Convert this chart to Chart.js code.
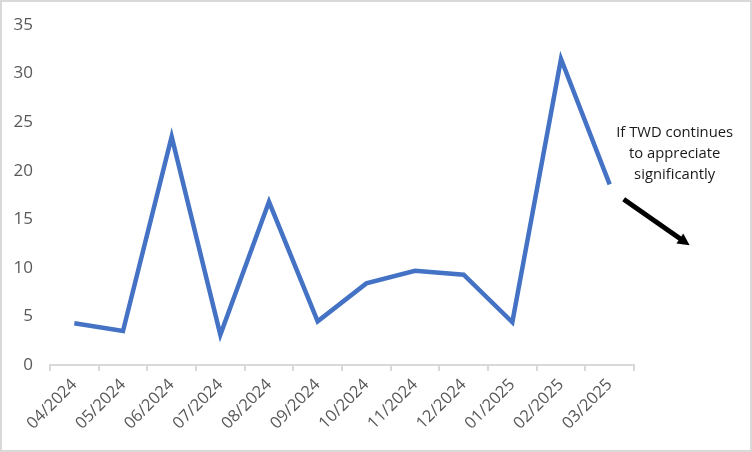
<!DOCTYPE html>
<html>
<head>
<meta charset="utf-8">
<script src="https://cdn.jsdelivr.net/npm/chart.js@4.4.1/dist/chart.umd.min.js"></script>
<style>
  body { margin:0; background:#fff; }
  #wrap { position:relative; width:752px; height:452px; }
  #frame { position:absolute; left:0; top:0; right:0; bottom:0; border:2px solid #d9d9d9; pointer-events:none; }
</style>
</head>
<body>
<div id="wrap">
  <canvas id="grafica" width="752" height="452"></canvas>
  <div id="frame"></div>
</div>
<script>
// datos
const meses   = ["04/2024","05/2024","06/2024","07/2024","08/2024","09/2024","10/2024","11/2024","12/2024","01/2025","02/2025","03/2025"];
const valores = [4.3, 3.5, 23.5, 3.1, 16.8, 4.5, 8.4, 9.7, 9.3, 4.4, 31.5, 18.6];
const notaLineas = ["If TWD continues", "to appreciate", "significantly"];

const FUENTE = "'Open Sans', 'Noto Sans', sans-serif";

// nota + flecha a la derecha del último punto
const notaPlugin = {
  id: "nota",
  afterDraw(chart) {
    const ctx = chart.ctx;
    const x = chart.scales.x, y = chart.scales.y;
    const ult = valores.length - 1;
    const px = x.getPixelForValue(ult);
    const py = y.getPixelForValue(valores[ult]);

    ctx.save();
    ctx.fillStyle = "#1a1a1a";
    ctx.font = "14.8px " + FUENTE;
    ctx.textAlign = "center";
    ctx.textBaseline = "middle";
    notaLineas.forEach((t, i) => ctx.fillText(t, px + 65, py - 52 + i * 21));

    // flecha
    const x0 = px + 14, y0 = py + 15, x1 = px + 80, y1 = py + 61;
    const ang = Math.atan2(y1 - y0, x1 - x0);
    ctx.strokeStyle = "#000";
    ctx.fillStyle = "#000";
    ctx.lineWidth = 5;
    ctx.beginPath();
    ctx.moveTo(x0, y0);
    ctx.lineTo(x1 - 8 * Math.cos(ang), y1 - 8 * Math.sin(ang));
    ctx.stroke();
    ctx.beginPath();
    ctx.moveTo(x1, y1);
    ctx.lineTo(x1 - 12 * Math.cos(ang) + 6 * Math.sin(ang), y1 - 12 * Math.sin(ang) - 6 * Math.cos(ang));
    ctx.lineTo(x1 - 12 * Math.cos(ang) - 6 * Math.sin(ang), y1 - 12 * Math.sin(ang) + 6 * Math.cos(ang));
    ctx.closePath();
    ctx.fill();
    ctx.restore();
  }
};

new Chart(document.getElementById("grafica"), {
  type: "line",
  data: {
    labels: meses,
    datasets: [{
      data: valores,
      borderColor: "#4472c4",
      borderWidth: 4.5,
      pointRadius: 0,
      tension: 0,
      fill: false,
      borderJoinStyle: "miter"
    }]
  },
  options: {
    responsive: false,
    animation: false,
    layout: { padding: { left: 0, top: 25, right: 118, bottom: 0 } },
    plugins: { legend: { display: false }, tooltip: { enabled: false } },
    scales: {
      x: {
        offset: true,
        grid: { offset: true, drawOnChartArea: false, color: "#d9d9d9", tickLength: 6, lineWidth: 2 },
        border: { display: true, color: "#d9d9d9", width: 2 },
        ticks: { color: "#595959", font: { family: FUENTE, size: 16.5 }, minRotation: 45, maxRotation: 45, autoSkip: false, padding: 4 },
        afterFit(s) { s.height = 87; }
      },
      y: {
        min: 0, max: 35,
        grid: { display: false },
        border: { display: false },
        ticks: { stepSize: 5, color: "#595959", font: { family: FUENTE, size: 17 }, padding: 9 },
        afterFit(s) { s.width = 50; }
      }
    }
  },
  plugins: [notaPlugin]
});
</script>
</body>
</html>
